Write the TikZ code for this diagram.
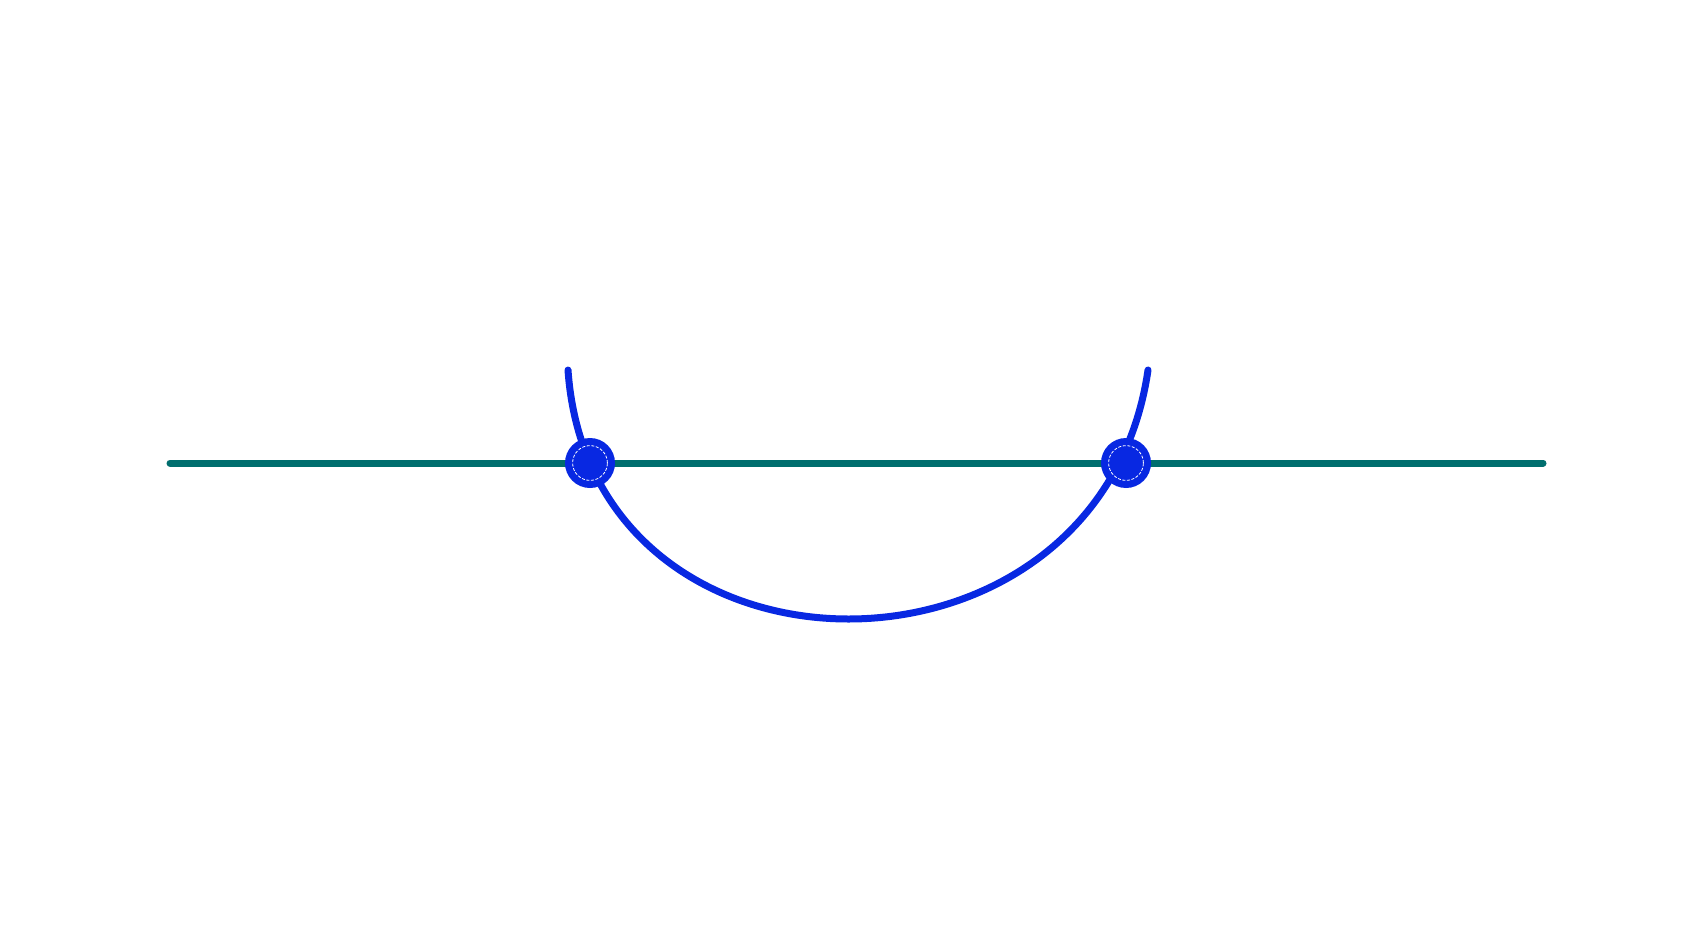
\documentclass[tikz,border=0pt]{standalone}
\begin{document}
\begin{tikzpicture}[x=0.5pt,y=-0.5pt]
\definecolor{lineteal}{RGB}{0,110,110}
\definecolor{curveblue}{RGB}{8,40,226}
\tikzset{
  axisline/.style={draw=lineteal,line width=3.5pt,line cap=round},
  bowl/.style={draw=curveblue,line width=3.5pt,line cap=round},
  joint/.style={circle,fill=curveblue,draw=none,minimum size=25pt,inner sep=0pt},
  jointmark/.style={draw=white,line width=0.4pt,dash pattern=on 1.5pt off 0.8pt}
}
\useasboundingbox (0,0) rectangle (1701,925);
\fill[white] (0,0) rectangle (1701,925);
\coordinate (lineL) at (170,463);
\coordinate (lineR) at (1543,463);
\coordinate (tipL) at (568,370);
\coordinate (tipR) at (1148,370);
\draw[axisline] (lineL) -- (lineR);
\draw[bowl] (tipL) .. controls (591,702) and (1100,702) .. (tipR);
\node[joint] (dotL) at (590,463) {};
\node[joint] (dotR) at (1126,463) {};
\draw[jointmark] (dotL.center) circle[radius=8.7pt];
\draw[jointmark] (dotR.center) circle[radius=8.7pt];
\end{tikzpicture}
\end{document}
